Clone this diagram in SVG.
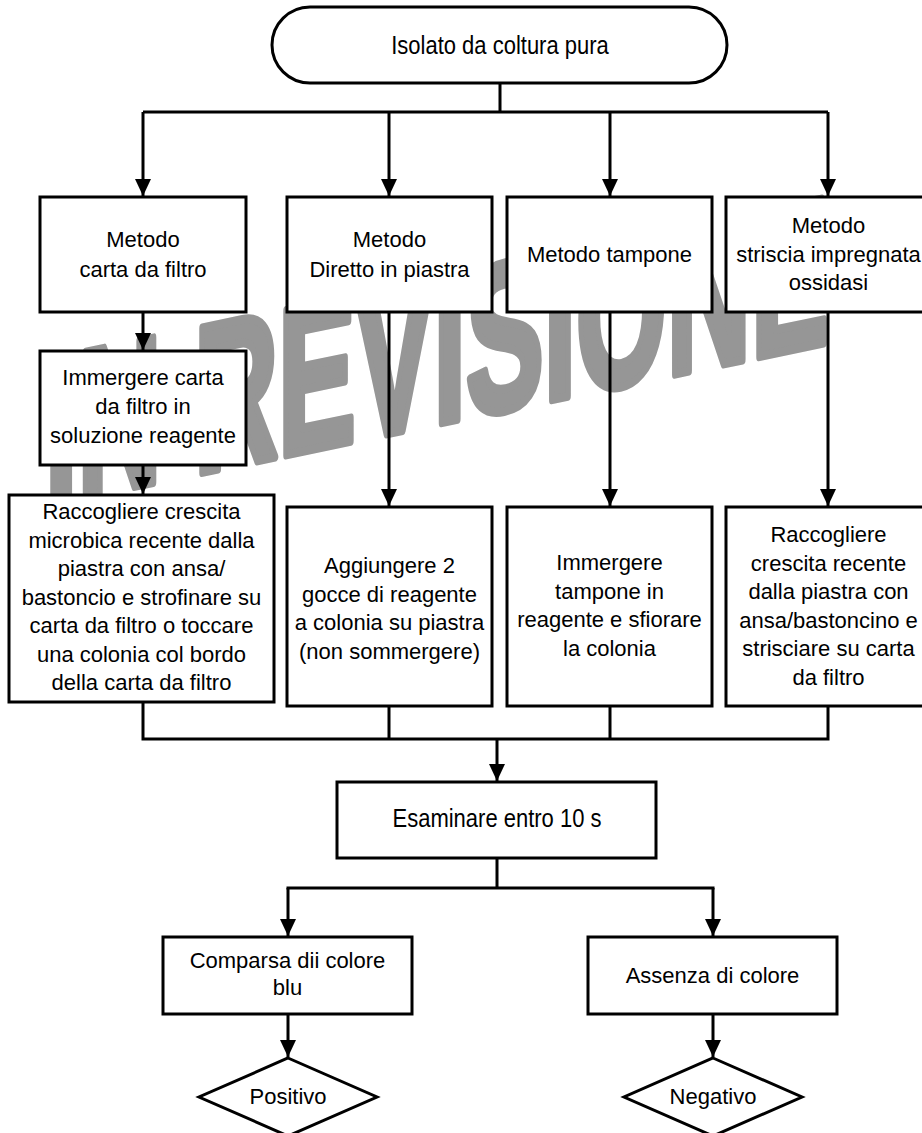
<svg xmlns="http://www.w3.org/2000/svg" width="922" height="1133" viewBox="0 0 922 1133">
<style>
.box{fill:#fff;stroke:#000;stroke-width:3}
.t{font-family:"Liberation Sans",Arial,sans-serif;font-size:22px;fill:#000;text-anchor:middle}
.n{font-size:25px}
.c{fill:none;stroke:#000;stroke-width:3}
.wm{font-family:"Liberation Sans",Arial,sans-serif;font-weight:bold;font-size:210px;fill:#969696;stroke:#969696;stroke-width:9;stroke-linejoin:round}
</style>
<defs>
<marker id="ah" markerUnits="userSpaceOnUse" markerWidth="16" markerHeight="17" refX="17" refY="8" orient="auto">
<path d="M0,0 L17,8 L0,16 z" fill="#000"/>
</marker>
</defs>
<rect width="922" height="1133" fill="#fff"/>
<g id="watermark">
<text class="wm" transform="translate(45,505) skewY(-11.75) scale(0.555,1)">IN REVISIONE</text>
</g>
<g id="n-start"><rect class="box" x="272" y="7" width="455" height="76" rx="38"/><text class="t n" transform="translate(500,54) scale(0.88,1)">Isolato da coltura pura</text></g>
<g id="n-m1"><rect class="box" x="40" y="197" width="206" height="115"/><text class="t" x="143" y="247">Metodo</text><text class="t" x="143" y="277">carta da filtro</text></g>
<g id="n-m2"><rect class="box" x="287" y="197" width="205" height="115"/><text class="t" x="389.5" y="247">Metodo</text><text class="t" x="389.5" y="277">Diretto in piastra</text></g>
<g id="n-m3"><rect class="box" x="507" y="197" width="205" height="115"/><text class="t" x="609.5" y="262">Metodo tampone</text></g>
<g id="n-m4"><rect class="box" x="726" y="197" width="205" height="115"/><text class="t" x="828.5" y="233">Metodo</text><text class="t" x="828.5" y="262">striscia impregnata</text><text class="t" x="828.5" y="290">ossidasi</text></g>
<g id="n-imm"><rect class="box" x="40" y="351" width="206" height="114"/><text class="t" x="143" y="385">Immergere carta</text><text class="t" x="143" y="414">da filtro in</text><text class="t" x="143" y="443">soluzione reagente</text></g>
<g id="n-r1"><rect class="box" x="9" y="495" width="265" height="207"/>
<text class="t" x="141.5" y="519">Raccogliere crescita</text>
<text class="t" x="141.5" y="547.5">microbica recente dalla</text>
<text class="t" x="141.5" y="576">piastra con ansa/</text>
<text class="t" x="141.5" y="604.5">bastoncio e strofinare su</text>
<text class="t" x="141.5" y="633">carta da filtro o toccare</text>
<text class="t" x="141.5" y="661.5">una colonia col bordo</text>
<text class="t" x="141.5" y="690">della carta da filtro</text></g>
<g id="n-r2"><rect class="box" x="287" y="507" width="205" height="199"/>
<text class="t" x="389.5" y="573">Aggiungere 2</text>
<text class="t" x="389.5" y="601.5">gocce di reagente</text>
<text class="t" x="389.5" y="630">a colonia su piastra</text>
<text class="t" x="389.5" y="658.5">(non sommergere)</text></g>
<g id="n-r3"><rect class="box" x="507" y="507" width="205" height="199"/>
<text class="t" x="609.5" y="570">Immergere</text>
<text class="t" x="609.5" y="598.5">tampone in</text>
<text class="t" x="609.5" y="627">reagente e sfiorare</text>
<text class="t" x="609.5" y="655.5">la colonia</text></g>
<g id="n-r4"><rect class="box" x="726" y="507" width="205" height="199"/>
<text class="t" x="828.5" y="542">Raccogliere</text>
<text class="t" x="828.5" y="570.5">crescita recente</text>
<text class="t" x="828.5" y="599">dalla piastra con</text>
<text class="t" x="828.5" y="627.5">ansa/bastoncino e</text>
<text class="t" x="828.5" y="656">strisciare su carta</text>
<text class="t" x="828.5" y="684.5">da filtro</text></g>
<g id="n-esam"><rect class="box" x="337" y="782" width="319" height="76"/><text class="t n" transform="translate(497,827) scale(0.88,1)">Esaminare entro 10 s</text></g>
<g id="n-comp"><rect class="box" x="163" y="937" width="249" height="77"/><text class="t" x="287.5" y="968">Comparsa dii colore</text><text class="t" x="287.5" y="995">blu</text></g>
<g id="n-ass"><rect class="box" x="588" y="937" width="249" height="77"/><text class="t" x="712.5" y="983">Assenza di colore</text></g>
<g id="n-pos"><polygon class="box" points="288,1058 377,1097 288,1136 199,1097"/><text class="t" x="288" y="1104">Positivo</text></g>
<g id="n-neg"><polygon class="box" points="713,1058 802,1097 713,1136 624,1097"/><text class="t" x="713" y="1104">Negativo</text></g>
<g id="connectors">
<path class="c" d="M500,83 V112 M143,112 H828"/>
<path class="c" d="M143,112 V196" marker-end="url(#ah)"/>
<path class="c" d="M389,112 V196" marker-end="url(#ah)"/>
<path class="c" d="M610,112 V196" marker-end="url(#ah)"/>
<path class="c" d="M828,112 V196" marker-end="url(#ah)"/>
<path class="c" d="M143,312 V350" marker-end="url(#ah)"/>
<path class="c" d="M143,465 V494" marker-end="url(#ah)"/>
<path class="c" d="M389,312 V506" marker-end="url(#ah)"/>
<path class="c" d="M610,312 V506" marker-end="url(#ah)"/>
<path class="c" d="M828,312 V506" marker-end="url(#ah)"/>
<path class="c" d="M143,702 V739 M389,706 V739 M610,706 V739 M828,706 V739 M141.5,739 H829.5"/>
<path class="c" d="M497,739 V781" marker-end="url(#ah)"/>
<path class="c" d="M497,858 V888 M286.5,888 H714.5"/>
<path class="c" d="M288,888 V936" marker-end="url(#ah)"/>
<path class="c" d="M713,888 V936" marker-end="url(#ah)"/>
<path class="c" d="M288,1014 V1057" marker-end="url(#ah)"/>
<path class="c" d="M713,1014 V1057" marker-end="url(#ah)"/>
</g>
</svg>
